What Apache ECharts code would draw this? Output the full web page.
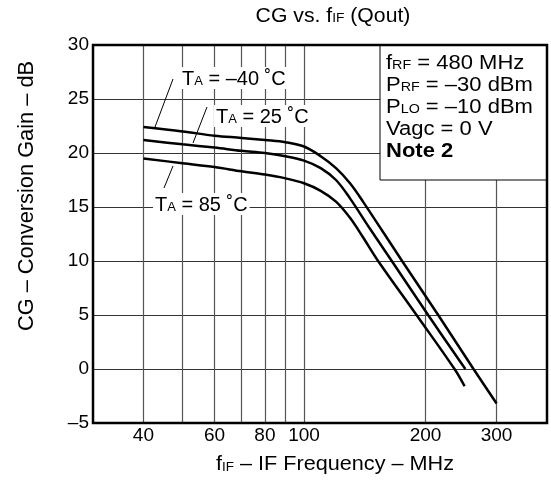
<!DOCTYPE html>
<html>
<head>
<meta charset="utf-8">
<script src="https://cdn.jsdelivr.net/npm/echarts@6/dist/echarts.min.js"></script>
<style>
  html, body { margin: 0; padding: 0; background: #fff; }
  #chart { width: 551px; height: 480px; }
</style>
</head>
<body>
<div id="chart"></div>
<script>
// Conversion gain vs IF frequency at three ambient temperatures
const freqM40 = [40, 50, 60, 70, 80, 90, 100, 110, 120, 130, 140, 175, 215, 263, 300];
const gainM40 = [22.4, 22.0, 21.6, 21.4, 21.2, 21.0, 20.6, 19.7, 18.6, 17.2, 15.5, 10.0, 5.0, 0.0, -3.2];

const freq25 = [40, 50, 60, 70, 80, 90, 100, 110, 120, 130, 145, 165, 203, 251];
const gain25 = [21.2, 20.8, 20.5, 20.2, 20.0, 19.7, 19.3, 18.6, 17.5, 15.8, 13.1, 10.0, 5.0, 0.0];

const freq85 = [40, 50, 60, 70, 80, 90, 100, 110, 120, 130, 140, 152, 190, 236, 250];
const gain85 = [19.5, 19.05, 18.7, 18.3, 18.0, 17.65, 17.2, 16.5, 15.5, 14.0, 12.2, 10.1, 5.0, 0.0, -1.6];

// Axis ticks
const xLabelValues = [40, 60, 80, 100, 200, 300];
const xGridValues = [40, 50, 60, 70, 80, 90, 100, 200, 300];
const xRange = [30, 400];
const yRange = [-5, 30];
const yStep = 5;

const FONT = '"Liberation Sans", Arial, Helvetica, sans-serif';
const dash = v => (v < 0 ? '\u2013' + Math.abs(v) : String(v));
const pairs = (xs, ys) => xs.map((x, i) => [x, ys[i]]);

const chart = echarts.init(document.getElementById('chart'), null, { renderer: 'canvas' });

const curve = (name, data) => ({
  name,
  type: 'line',
  data,
  smooth: 0.35,
  showSymbol: false,
  symbol: 'none',
  lineStyle: { color: '#000', width: 2.5 },
  z: 3
});

// Text helpers: rich tokens for normal text, small subscripts sitting on the baseline, and bold
const main = size => ({ fontSize: size, fontFamily: FONT, fill: '#000', color: '#000', verticalAlign: 'bottom', lineHeight: size + 2 });
const sub = size => ({ fontSize: size, fontFamily: FONT, fill: '#000', color: '#000', verticalAlign: 'bottom', lineHeight: size + 2, padding: [0, 0, 1, 0] });

function label(x, y, text, size, extra, scaleX) {
  return {
    type: 'text',
    x, y,
    z: 30,
    scaleX: scaleX || 1,
    style: Object.assign({
      text,
      align: 'left',
      verticalAlign: 'middle',
      fontSize: size,
      fontFamily: FONT,
      fill: '#000',
      rich: { m: main(size), s: sub(Math.round(size * 0.64)), b: Object.assign(main(size), { fontWeight: 'bold' }) }
    }, extra || {})
  };
}

function leader(x1, y1, x2, y2) {
  return { type: 'line', z: 29, shape: { x1, y1, x2, y2 }, style: { stroke: '#000', lineWidth: 1 } };
}

const boxLines = [
  '{m|f}{s|RF}{m| = 480 MHz}',
  '{m|P}{s|RF}{m| = \u201330 dBm}',
  '{m|P}{s|LO}{m| = \u201310 dBm}',
  '{m|Vagc = 0 V}',
  '{b|Note 2}'
];

const option = {
  animation: false,
  backgroundColor: '#fff',
  grid: { left: 93, right: 4, top: 45, bottom: 57, containLabel: false, outerBoundsMode: 'none' },
  xAxis: {
    type: 'log',
    logBase: 10,
    min: xRange[0],
    max: xRange[1],
    axisLine: { show: false },
    axisTick: { show: false, customValues: xGridValues },
    splitLine: { show: true, lineStyle: { color: '#555', width: 1.2 } },
    axisLabel: { customValues: xLabelValues, fontSize: 19, fontFamily: FONT, color: '#000', margin: 3 }
  },
  yAxis: {
    type: 'value',
    min: yRange[0],
    max: yRange[1],
    interval: yStep,
    axisLine: { show: false },
    axisTick: { show: false },
    splitLine: { show: true, lineStyle: { color: '#333', width: 1 } },
    axisLabel: { fontSize: 19, fontFamily: FONT, color: '#000', margin: 4, formatter: dash }
  },
  series: [
    curve('TA = -40 C', pairs(freqM40, gainM40)),
    curve('TA = 25 C', pairs(freq25, gain25)),
    curve('TA = 85 C', pairs(freq85, gain85))
  ]
};

chart.setOption(option);

// Frame, conditions box, curve annotations and titles
const els = [];
els.push({ type: 'rect', z: 40, shape: { x: 93, y: 45, width: 454, height: 378 }, style: { fill: 'none', stroke: '#000', lineWidth: 2.5 } });
els.push({ type: 'rect', z: 20, shape: { x: 380, y: 45, width: 167, height: 135 }, style: { fill: '#fff', stroke: '#000', lineWidth: 1 } });
boxLines.forEach((t, i) => els.push(label(386, 62 + i * 22.2, t, 20, null, 1.1)));

const bg = { backgroundColor: '#fff', padding: [0, 2, 0, 2] };
els.push(label(180, 78, '{m|T}{s|A}{m| = \u201340 \u02daC}', 20, bg));
els.push(leader(173, 79, 155, 127));
els.push(label(214, 116, '{m|T}{s|A}{m| = 25 \u02daC}', 20, bg));
els.push(leader(207, 107, 193, 143));
els.push(label(153, 204, '{m|T}{s|A}{m| = 85 \u02daC}', 20, bg));
els.push(leader(173, 166, 164, 188));

const title = label(333, 15, '{m|CG vs. f}{s|IF}{m| (Qout)}', 20, { align: 'center' }, 1.06);
els.push(title);
const xName = label(335, 463, '{m|f}{s|IF}{m| \u2013 IF Frequency \u2013 MHz}', 21, { align: 'center' }, 1.03);
els.push(xName);
els.push({
  type: 'text', x: 27, y: 196, rotation: Math.PI / 2, z: 30,
  style: { text: 'CG \u2013 Conversion Gain \u2013 dB', align: 'center', verticalAlign: 'middle', fontSize: 21.8, fontFamily: FONT, fill: '#000' }
});

chart.setOption({ graphic: { elements: els } });
</script>
</body>
</html>
